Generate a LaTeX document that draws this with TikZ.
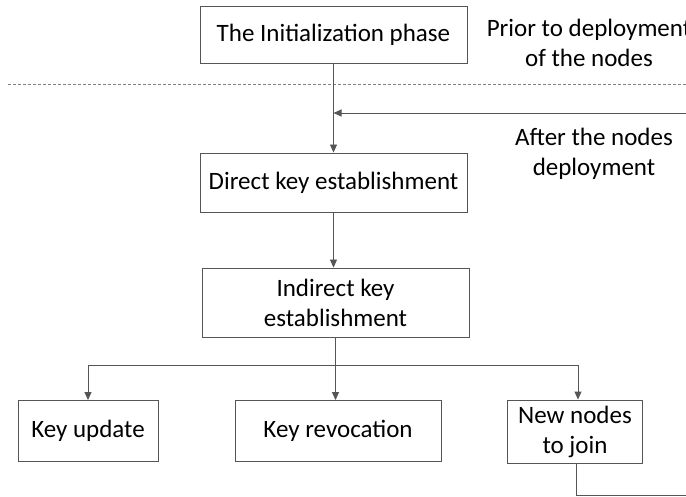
\documentclass[tikz,border=0pt]{standalone}
\usepackage{fontspec}
\setmainfont{Carlito}
\usetikzlibrary{arrows.meta}
\definecolor{ln}{HTML}{555555}
\begin{document}
\begin{tikzpicture}[x=1pt,y=-1pt,
  box/.style={draw=ln,line width=0.9pt,fill=white,align=center,inner sep=2pt,font=\fontsize{25}{30}\selectfont},
  lbl/.style={align=center,inner sep=0pt,font=\fontsize{25}{30}\selectfont},
  arr/.style={draw=ln,line width=0.9pt,-{Triangle[length=8pt,width=7pt]}},
  ln/.style={draw=ln,line width=0.9pt}]
\useasboundingbox (0,0) rectangle (686,497);
\node[box,minimum width=267pt,minimum height=57pt] (b1) at (333.5,34.5) {The Initialization phase};
\node[box,minimum width=267pt,minimum height=59pt] (b2) at (333.5,182.5) {Direct key establishment};
\node[box,minimum width=267pt,minimum height=69pt] (b3) at (335.5,302.5) {Indirect key\\establishment};
\node[box,minimum width=140pt,minimum height=61pt] (ku) at (88,431) {Key update};
\node[box,minimum width=206pt,minimum height=61pt] (kr) at (338,431) {Key revocation};
\node[box,minimum width=135pt,minimum height=63pt] (nn) at (575,431.5) {New nodes\\to join};
\node[lbl] (pr) at (589,43) {Prior to deployment\\of the nodes};
\node[lbl] (af) at (594,154) {After the nodes\\deployment};
\coordinate (dl) at (8,84);
\coordinate (dr) at (686,84);
\draw[draw=gray,line width=0.7pt,dash pattern=on 3pt off 2pt] (dl) -- (dr);
\coordinate (rin) at (686,113);
\coordinate (rout) at (686,495);
\coordinate (br) at (0,365);
\draw[arr] (b1.south) -- (b2.north);
\draw[arr] (rin) -- (b1.south |- rin);
\draw[arr] (b2.south) -- (b2.south |- b3.north);
\draw[arr] (b3.south) -- (b3.south |- kr.north);
\draw[arr] (b3.south |- br) -| (ku.north);
\draw[arr] (b3.south |- br) -| ([xshift=3pt]nn.north);
\draw[ln] ([xshift=1pt]nn.south) |- (rout);
\end{tikzpicture}
\end{document}
